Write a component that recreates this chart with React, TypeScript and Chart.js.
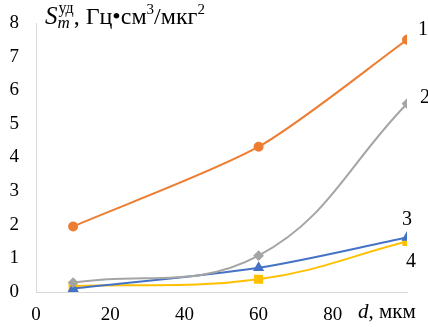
import React, { useEffect, useRef } from "react";
import { Chart, registerables } from "chart.js";

Chart.register(...registerables);

const xValues = [10, 60, 100];
const series1 = [1.95, 4.32, 7.5];
const series2 = [0.28, 1.08, 5.6];
const series3 = [0.1, 0.72, 1.62];
const series4 = [0.18, 0.38, 1.5];
const seriesLabels = ["1", "2", "3", "4"];
const xTicks = [0, 20, 40, 60, 80];

const FONT = "'Liberation Serif', 'DejaVu Serif', serif";

const labelsPlugin = {
  id: "labelsPlugin",
  afterDraw(chart: any) {
    const ctx = chart.ctx;
    const xs = chart.scales.x;
    const ys = chart.scales.y;
    ctx.save();
    ctx.fillStyle = "#000";
    ctx.textBaseline = "alphabetic";
    // title
    let x = 45;
    const base = 24;
    ctx.font = `italic 25px ${FONT}`;
    ctx.textAlign = "left";
    ctx.fillText("S", x, base);
    const sW = ctx.measureText("S").width;
    ctx.font = `italic 17px ${FONT}`;
    ctx.fillText("m", x + sW, base + 4);
    const mW = ctx.measureText("m").width;
    ctx.font = `16px ${FONT}`;
    ctx.fillText("уд", x + sW + 1, base - 11);
    const udW = ctx.measureText("уд").width + 1;
    x += sW + Math.max(mW, udW);
    ctx.font = `24px ${FONT}`;
    const p1 = ", Гц•см";
    ctx.fillText(p1, x, base);
    x += ctx.measureText(p1).width;
    ctx.font = `15px ${FONT}`;
    ctx.fillText("3", x, base - 10);
    x += ctx.measureText("3").width;
    ctx.font = `24px ${FONT}`;
    const p2 = "/мкг";
    ctx.fillText(p2, x, base);
    x += ctx.measureText(p2).width;
    ctx.font = `15px ${FONT}`;
    ctx.fillText("2", x, base - 10);

    // series number labels
    ctx.textBaseline = "middle";
    ctx.font = `20px ${FONT}`;
    ctx.textAlign = "center";
    const last = xValues.length - 1;
    const xr = xs.getPixelForValue(xValues[last]);
    const pos = [
      [xr + 16, ys.getPixelForValue(series1[last]) - 10],
      [xr + 18, ys.getPixelForValue(series2[last]) - 6],
      [xr + 0, ys.getPixelForValue(series3[last]) - 18],
      [xr + 4, ys.getPixelForValue(series4[last]) + 20],
    ];
    seriesLabels.forEach((l, i) => ctx.fillText(l, pos[i][0], pos[i][1]));

    // x axis title
    const by = xs.bottom - 15;
    ctx.textAlign = "left";
    ctx.font = `italic 21px ${FONT}`;
    let ax = 358;
    ctx.fillText("d", ax, by);
    ax += ctx.measureText("d").width;
    ctx.font = `21px ${FONT}`;
    ctx.fillText(", мкм", ax, by);
    ctx.restore();
  },
};

export default function App() {
  const ref = useRef<HTMLCanvasElement>(null);
  useEffect(() => {
    document.body.style.margin = "0";
    const mk = (data: number[], color: string, style: any, r: number, t: number) => ({
      data: xValues.map((x, i) => ({ x, y: data[i] })),
      borderColor: color,
      backgroundColor: color,
      borderWidth: 2,
      pointStyle: style,
      pointRadius: r,
      pointHoverRadius: r,
      tension: t,
    });
    const chart = new Chart(ref.current!, {
      type: "line",
      data: {
        datasets: [
          mk(series1, "#ED7D31", "circle", 4, 0.25),
          mk(series2, "#A5A5A5", "rectRot", 4, 0.4),
          mk(series3, "#4472C4", "triangle", 4.5, 0.3),
          mk(series4, "#FFC000", "rect", 5, 0.4),
        ],
      },
      options: {
        animation: false,
        responsive: false,
        layout: { padding: { top: 23, right: 21, left: 0, bottom: 0 } },
        plugins: { legend: { display: false }, tooltip: { enabled: false } },
        scales: {
          x: {
            type: "linear",
            min: 0,
            max: 100,
            afterBuildTicks: (s: any) => {
              s.ticks = [...xTicks, 100].map((v) => ({ value: v }));
            },
            afterFit: (s: any) => {
              s.height = 35;
              s.paddingLeft = 0;
              s.paddingRight = 0;
            },
            grid: { display: false, drawTicks: false },
            border: { color: "#D9D9D9", width: 1 },
            ticks: {
              padding: 12,
              color: "#000",
              font: { family: FONT, size: 19 },
              callback: (v: any) => (v === 100 ? "" : String(v)),
            },
          },
          y: {
            min: 0,
            max: 8,
            afterFit: (s: any) => {
              s.width = 36;
              s.paddingTop = 0;
              s.paddingBottom = 0;
            },
            grid: { display: false, drawTicks: false },
            border: { color: "#D9D9D9", width: 1 },
            ticks: {
              stepSize: 1,
              padding: 17,
              color: "#000",
              font: { family: FONT, size: 19 },
            },
          },
        },
      },
      plugins: [labelsPlugin],
    });
    return () => chart.destroy();
  }, []);
  return <canvas ref={ref} width={428} height={327} style={{ display: "block" }} />;
}
